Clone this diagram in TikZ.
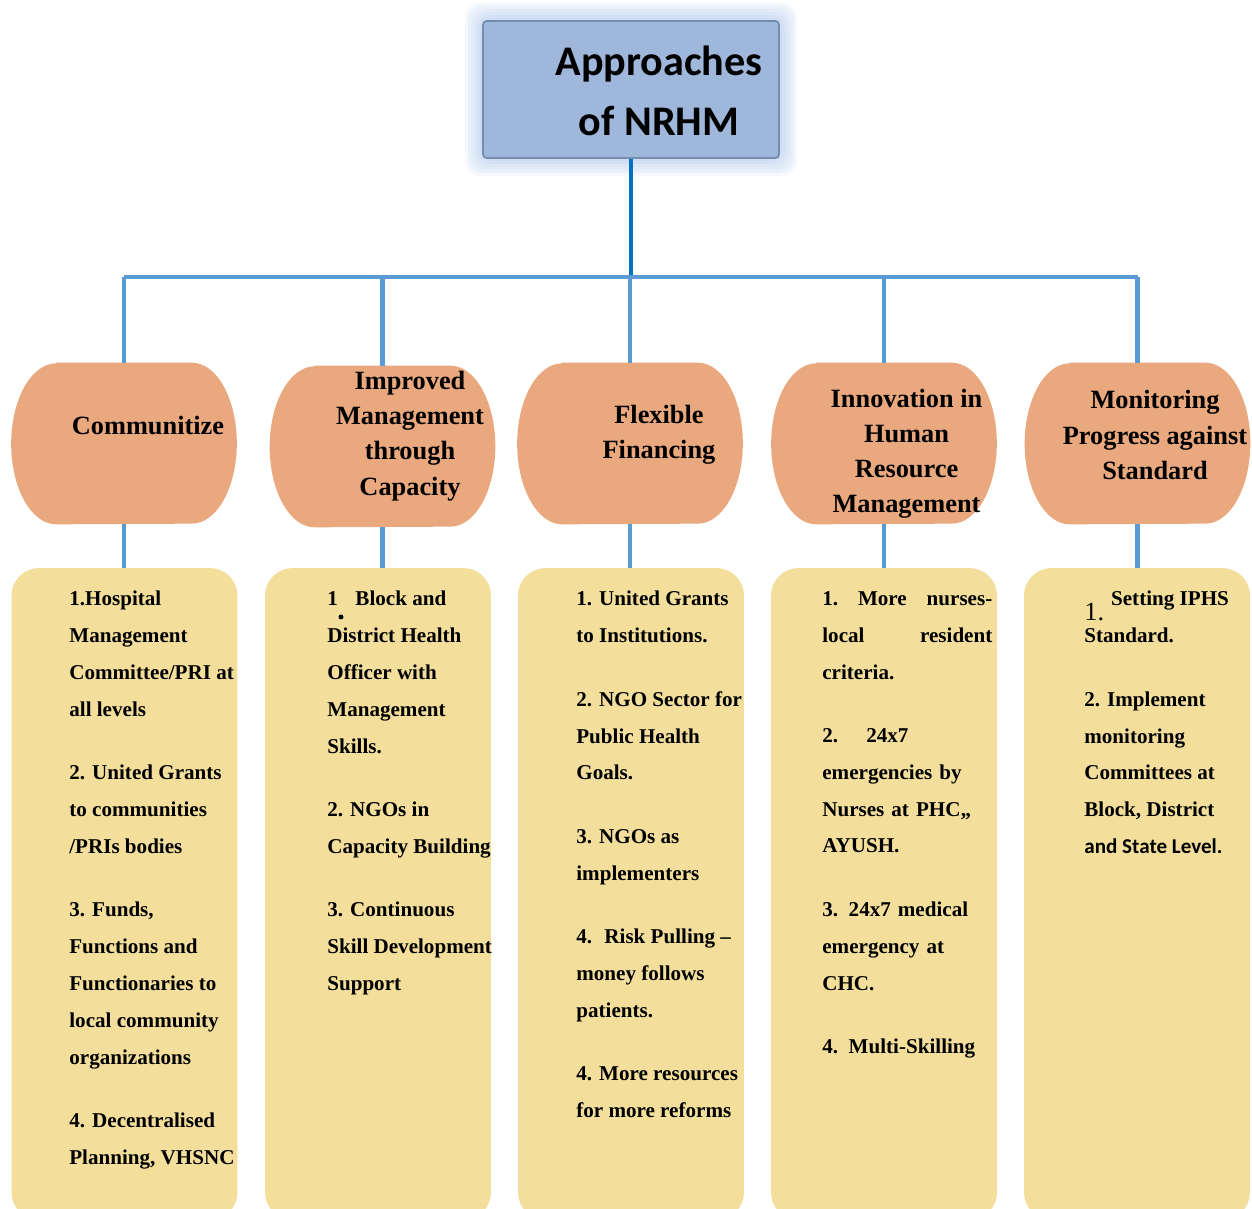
\documentclass[tikz,border=0pt]{standalone}
\usepackage{fontspec}
\setmainfont{Liberation Serif}
\newfontfamily\calibri{Carlito}
\usepackage{tikz}
\usetikzlibrary{calc}

\definecolor{titleblue}{RGB}{159,183,218}
\definecolor{titleedge}{RGB}{118,141,178}
\definecolor{glowblue}{RGB}{140,175,225}
\definecolor{stemblue}{RGB}{0,112,192}
\definecolor{linkblue}{RGB}{91,155,213}
\definecolor{hdrfill}{RGB}{233,168,125}
\definecolor{bodyfill}{RGB}{243,223,155}

\begin{document}
\begin{tikzpicture}[
    x=0.02cm, y=-0.02cm,
    every node/.style={font=\bfseries},
    titlebox/.style={draw=titleedge, fill=titleblue, line width=1pt, rounded corners=2pt, minimum width=5.92cm, minimum height=2.74cm, inner sep=0pt},
    titletext/.style={font=\calibri\fontsize{24}{34}\selectfont\bfseries, align=center},
    hdr/.style={minimum width=4.5cm, minimum height=3.22cm, inner sep=0pt},
    hdrtext/.style={font=\fontsize{15}{20}\selectfont\bfseries, align=center},
    body/.style={fill=bodyfill, rounded corners=0.55cm, minimum width=4.52cm, minimum height=13.04cm, inner sep=0pt},
    bodytext/.style={font=\fontsize{12}{21}\selectfont\bfseries, align=left, anchor=north west, inner sep=0pt},
    stem/.style={stemblue, line width=2.3pt},
    link/.style={linkblue, line width=2.3pt},
]
\useasboundingbox (0,0) rectangle (1252,1209);
\clip (0,0) rectangle (1252,1209);
% === Title ===
\foreach \g in {3,6,...,18}
  \fill[glowblue, opacity=0.09, rounded corners=0.3cm] (483-\g,21-\g) rectangle (779+\g,158+\g);
\node[titlebox] (title) at (631,89.5) {};
\node[titletext] (titletxt) at (659,91) {Approaches\\of NRHM};
% Hub of the tree
\coordinate (hub) at (631,277);
% === Headers ===
\node[hdr] (h1) at (124,443.5) {};
\node[hdr] (h2) at (382.5,446.5) {};
\node[hdr] (h3) at (630,443.5) {};
\node[hdr] (h4) at (884,443.5) {};
\node[hdr] (h5) at (1137.5,443.5) {};
\foreach \n in {h1,h2,h3,h4,h5}
  \fill[hdrfill] ($(\n.north west)+(45,0)$) -- ($(\n.north east)+(-45,0)$)
    arc[start angle=-90, end angle=90, x radius=45, y radius=80.5]
    -- ($(\n.south west)+(45,0)$)
    arc[start angle=90, end angle=270, x radius=45, y radius=80.5] -- cycle;
\node[hdrtext] (h1txt) at (148,426) {Communitize};
\node[hdrtext] (h2txt) at (410,436) {Improved\\Management\\through\\Capacity};
\node[hdrtext] (h3txt) at (659,435) {Flexible\\Financing};
\node[hdrtext] (h4txt) at (906.5,454) {Innovation in\\Human\\Resource\\Management};
\node[hdrtext] (h5txt) at (1155,435) {Monitoring\\Progress against\\Standard};
% === Bodies ===
\node[body] (b1) at (124.5,894) {};
\node[body] (b2) at (378,894) {};
\node[body] (b3) at (631,894) {};
\node[body] (b4) at (884,894) {};
\node[body] (b5) at (1137,894) {};
% Connectors
\draw[stem] (title.south) -- (hub);
\draw[link] (h1.north |- hub) -- (h5.north |- hub);
\foreach \i in {1,...,5} {
  \draw[link] (h\i.north |- hub) -- (h\i.north);
  \draw[link] (h\i.south) -- (h\i.south |- b\i.north);
}
% Body texts
\node[bodytext] (t1) at (69,591) {1.Hospital\\Management\\Committee/PRI at\\all levels\\[15pt]
  2. United Grants\\to communities\\/PRIs bodies\\[15pt]
  3. Funds,\\Functions and\\Functionaries to\\local community\\organizations\\[15pt]
  4. Decentralised\\Planning, VHSNC};
\node[bodytext] (t2) at (327,591) {1\hspace{10pt}Block and\\District Health\\Officer with\\Management\\Skills.\\[15pt]
  2. NGOs in\\Capacity Building\\[15pt]
  3. Continuous\\Skill Development\\Support};
\fill (341,617) circle[radius=2.5];
\node[bodytext] (t3) at (576,591) {1. United Grants\\to Institutions.\\[15pt]
  2. NGO Sector for\\Public Health\\Goals.\\[15pt]
  3. NGOs as\\implementers\\[15pt]
  4.\hspace{7pt}Risk Pulling --\\money follows\\patients.\\[15pt]
  4. More resources\\for more reforms};
\node[bodytext, text width=3.4cm] (t4) at (822,591) {1.\hfill More\hfill nurses-\\local\hfill resident\\criteria.\\[15pt]
  2.\hspace{16pt}24x7\\emergencies by\\Nurses at PHC,,\\AYUSH.\\[15pt]
  3. 24x7 medical\\emergency at\\CHC.\\[15pt]
  4. Multi-Skilling};
\node[bodytext] (t5) at (1084,591) {\raisebox{-8pt}{\mdseries\fontsize{15}{15}\selectfont 1.}\hspace{4pt}Setting IPHS\\Standard.\\[15pt]
  2. Implement\\monitoring\\Committees at\\Block, District\\{\calibri\bfseries and State Level.}};
\end{tikzpicture}
\end{document}
